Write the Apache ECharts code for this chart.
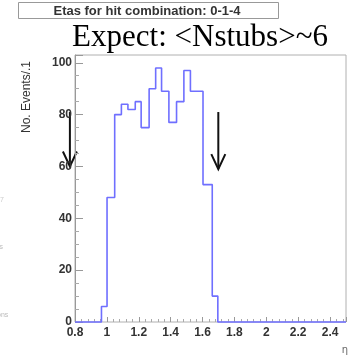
<!DOCTYPE html>
<html>
<head>
<meta charset="utf-8">
<script src="https://cdn.jsdelivr.net/npm/echarts@6/dist/echarts.min.js"></script>
<style>
html,body{margin:0;padding:0;background:#fff;}
#c{width:349px;height:361px;}
</style>
</head>
<body>
<div id="c"></div>
<script>
// Histogram bin edges (eta) and counts
var binEdges = [0.966, 1.001, 1.049, 1.091, 1.132, 1.178, 1.215, 1.265, 1.306, 1.343, 1.389, 1.437, 1.483, 1.524, 1.563, 1.603, 1.661, 1.696];
var binCounts = [6, 48, 80, 84, 82, 85, 75, 90, 98, 89, 77, 85, 97, 89, 89, 53, 10];
var xTicks = [0.8, 1, 1.2, 1.4, 1.6, 1.8, 2, 2.2, 2.4];
var yTicks = [0, 20, 40, 60, 80, 100];
var xRange = [0.8, 2.5];
var yRange = [0, 103];
// Arrow annotations (data units): x, top, tip
var arrowX = [0.768, 1.699];
var arrowTop = [81, 81];
var arrowTip = [60, 59];

var titleText = 'Etas for hit combination: 0-1-4';
var subText = 'Expect: <Nstubs>~6';
var yName = 'No. Events/.1';
var xName = '\u03b7';

var pts = [[xRange[0], 0], [binEdges[0], 0]];
for (var i = 0; i < binCounts.length; i++) {
  pts.push([binEdges[i], binCounts[i]]);
  pts.push([binEdges[i + 1], binCounts[i]]);
}
pts.push([binEdges[binEdges.length - 1], 0]);
pts.push([xRange[1], 0]);

var chart = echarts.init(document.getElementById('c'), null, {renderer: 'canvas'});
var labelStyle = {fontFamily: 'Liberation Sans, Arial', fontWeight: 'bold', fontSize: 12, color: '#333'};

chart.setOption({
  animation: false,
  backgroundColor: '#fff',
  grid: {left: 75, right: 1, top: 55, bottom: 39, show: true, borderColor: '#b0b0b0', borderWidth: 1, containLabel: false},
  xAxis: {
    type: 'value', min: xRange[0], max: xRange[1], interval: 0.2,
    axisLine: {show: false},
    axisTick: {show: true, inside: true, length: 5, lineStyle: {color: '#999'}},
    minorTick: {show: true, splitNumber: 5, length: 3, lineStyle: {color: '#aaa'}},
    splitLine: {show: false},
    axisLabel: Object.assign({}, labelStyle, {margin: 5, formatter: function (v) {
      for (var k = 0; k < xTicks.length; k++) if (Math.abs(v - xTicks[k]) < 1e-6) return String(xTicks[k]);
      return '';
    }})
  },
  yAxis: {
    type: 'value', min: yRange[0], max: yRange[1], interval: 20,
    axisLine: {show: true, lineStyle: {color: '#999'}},
    axisTick: {show: true, inside: true, length: 8, lineStyle: {color: '#999'}},
    minorTick: {show: true, splitNumber: 4, length: 4, lineStyle: {color: '#aaa'}},
    splitLine: {show: false},
    axisLabel: Object.assign({}, labelStyle, {margin: 3, formatter: function (v) {
      for (var k = 0; k < yTicks.length; k++) if (Math.abs(v - yTicks[k]) < 1e-6) return String(yTicks[k]);
      return '';
    }})
  },
  series: [{
    type: 'line', data: pts, symbol: 'none', clip: false,
    lineStyle: {color: '#6f6fff', width: 1.6}
  }]
});

function px(x, y) { return chart.convertToPixel({gridIndex: 0}, [x, y]); }

var graphics = [
  {type: 'rect', shape: {x: 18.5, y: 2.5, width: 260, height: 16}, style: {fill: '#fff', stroke: '#999', lineWidth: 1}},
  {type: 'text', x: 147, y: 11, style: {text: titleText, font: 'bold 13px "Liberation Sans", Arial', fill: '#333', align: 'center', verticalAlign: 'middle', letterSpacing: 0.6}},
  {type: 'text', x: 200, y: 38, style: {text: subText, font: '31px "Liberation Serif", "Times New Roman"', fill: '#000', align: 'center', verticalAlign: 'middle'}},
  {type: 'text', x: 27, y: 97, rotation: Math.PI / 2, style: {text: yName, font: '12px "Liberation Sans", Arial', fill: '#333', align: 'center', verticalAlign: 'middle', letterSpacing: 0.6}},
  {type: 'text', x: 345, y: 350, style: {text: xName, font: '10px "DejaVu Sans"', fill: '#666', align: 'center', verticalAlign: 'middle'}},
  {type: 'text', x: 0, y: 200, style: {text: '7', font: '7px "Liberation Sans"', fill: '#ccc', align: 'left', verticalAlign: 'middle'}},
  {type: 'text', x: -1, y: 247, style: {text: 's', font: '8px "Liberation Sans"', fill: '#bbb', align: 'left', verticalAlign: 'middle'}},
  {type: 'text', x: -3, y: 315, style: {text: 'ons', font: '7px "Liberation Sans"', fill: '#bbb', align: 'left', verticalAlign: 'middle'}}
];
for (var a = 0; a < arrowX.length; a++) {
  var t = px(arrowX[a], arrowTop[a]);
  var b = px(arrowX[a], arrowTip[a]);
  graphics.push({type: 'line', shape: {x1: t[0], y1: t[1], x2: b[0], y2: b[1]}, style: {stroke: '#111', lineWidth: 2}});
  graphics.push({type: 'polyline', shape: {points: [[b[0] - 7, b[1] - 15], [b[0], b[1]], [b[0] + 7, b[1] - 15]]}, style: {stroke: '#111', lineWidth: 2, fill: null}});
}
chart.setOption({graphic: graphics});
</script>
</body>
</html>
